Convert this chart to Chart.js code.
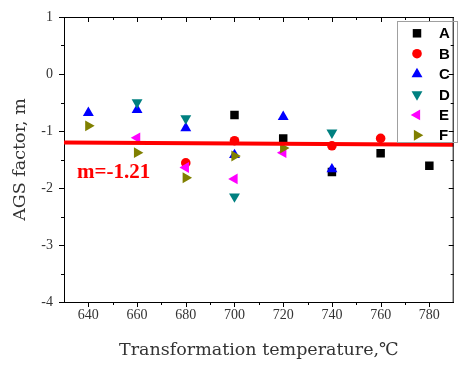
<!DOCTYPE html>
<html>
<head>
<meta charset="utf-8">
<script src="https://cdn.jsdelivr.net/npm/chart.js@4.4.1/dist/chart.umd.min.js"></script>
<style>
  html, body { margin: 0; padding: 0; background: #fff; }
  #graphique { display: block; }
</style>
</head>
<body>
<canvas id="graphique" width="460" height="365"></canvas>
<script>
/** Données : température (°C) et facteur AGS m */
const tempA = [700, 720, 740, 760, 780];
const mA = [-0.72, -1.13, -1.72, -1.39, -1.61];

const tempB = [680, 700, 740, 760];
const mB = [-1.56, -1.17, -1.26, -1.13];

const tempC = [640, 660, 680, 700, 720, 740];
const mC = [-0.68, -0.63, -0.95, -1.42, -0.75, -1.67];

const tempD = [660, 680, 700, 740];
const mD = [-0.50, -0.78, -2.15, -1.03];

const tempE = [660, 680, 700, 720];
const mE = [-1.12, -1.64, -1.84, -1.38];

const tempF = [640, 660, 680, 700, 720];
const mF = [-0.91, -1.38, -1.82, -1.44, -1.30];

/** Droite de régression */
const tempFit = [630, 790];
const mFit = [-1.20, -1.24];
const texteFit = 'm=-1.21';

/** Libellés des axes */
const ticksX = [640, 660, 680, 700, 720, 740, 760, 780];
const ticksY = [-4, -3, -2, -1, 0, 1];

const series = ['A', 'B', 'C', 'D', 'E', 'F'];
const couleurs = ['#000000', '#ff0000', '#0000ff', '#008080', '#ff00ff', '#808000'];
const formes = ['rect', 'circle', 'triangle', 'triangle', 'triangle', 'triangle'];
const rotations = [0, 0, 0, 180, 270, 90];
const tailles = [6, 4.8, 6.3, 6.3, 6.3, 6.3];

const points = function(t, m) {
  return t.map((v, i) => ({ x: v, y: m[i] }));
};

const valeurs = [[tempA, mA], [tempB, mB], [tempC, mC], [tempD, mD], [tempE, mE], [tempF, mF]];

const datasets = valeurs.map((s, i) => ({
  label: series[i],
  data: points(s[0], s[1]),
  pointStyle: formes[i],
  rotation: rotations[i],
  pointRadius: tailles[i],
  pointBackgroundColor: couleurs[i],
  pointBorderWidth: 0,
  order: 10 - i
}));

datasets.push({
  label: 'fit',
  data: points(tempFit, mFit),
  showLine: true,
  pointRadius: 0,
  borderColor: '#ff0000',
  borderWidth: 4,
  order: 0
});

/** Graduations sur les quatre côtés, majeures et mineures */
const graduations = {
  id: 'graduations',
  afterDraw(chart) {
    const { ctx, chartArea: a, scales: { x, y } } = chart;
    ctx.save();
    ctx.strokeStyle = '#000';
    ctx.lineWidth = 1;
    ctx.beginPath();
    ctx.moveTo(a.left, a.top + 0.5);
    ctx.lineTo(a.right, a.top + 0.5);
    ctx.moveTo(a.right - 0.5, a.top);
    ctx.lineTo(a.right - 0.5, a.bottom);
    for (let v = 640; v <= 780; v += 10) {
      const px = Math.round(x.getPixelForValue(v)) + 0.5;
      const l = v % 20 === 0 ? 5 : 3;
      ctx.moveTo(px, a.bottom);
      ctx.lineTo(px, a.bottom + l);
      ctx.moveTo(px, a.top);
      ctx.lineTo(px, a.top + l);
    }
    for (let v = -4; v <= 1; v += 0.5) {
      const py = Math.round(y.getPixelForValue(v)) + 0.5;
      const l = Number.isInteger(v) ? 5 : 3;
      ctx.moveTo(a.left, py);
      ctx.lineTo(a.left - l, py);
      ctx.moveTo(a.right, py);
      ctx.lineTo(a.right - l, py);
    }
    ctx.stroke();
    ctx.restore();
  }
};

/** Légende encadrée et texte de la pente */
const legende = {
  id: 'legende',
  afterDraw(chart) {
    const ctx = chart.ctx;
    const a = chart.chartArea;
    ctx.save();
    ctx.strokeStyle = '#a0a0a0';
    ctx.lineWidth = 1;
    ctx.strokeRect(397.5, 21.5, 60, 121);
    series.forEach((nom, i) => {
      const yy = 33.3 + i * 20.4;
      ctx.fillStyle = couleurs[i];
      Chart.helpers.drawPoint(ctx, {
        pointStyle: formes[i], rotation: rotations[i],
        radius: tailles[i], borderWidth: 0
      }, 417, yy);
      ctx.fillStyle = '#000';
      ctx.font = 'bold 15px "Liberation Sans", Arial, sans-serif';
      ctx.textAlign = 'left';
      ctx.textBaseline = 'middle';
      ctx.fillText(nom, 439, yy + 1);
    });
    ctx.fillStyle = '#ff0000';
    ctx.font = 'bold 21px "Liberation Serif", "Times New Roman", serif';
    ctx.textAlign = 'left';
    ctx.textBaseline = 'middle';
    ctx.fillText(texteFit, a.left + 13, 173);
    ctx.restore();
  }
};

const ctx = document.getElementById('graphique').getContext('2d');
const graphique = new Chart(ctx, {
  type: 'scatter',
  data: { datasets },
  options: {
    responsive: false,
    animation: false,
    layout: { padding: { top: 17, right: 2, left: 0, bottom: 0 } },
    plugins: { legend: { display: false }, tooltip: { enabled: false } },
    scales: {
      x: {
        type: 'linear', min: 630, max: 790,
        afterFit: (s) => { s.height = 63; },
        afterBuildTicks: (s) => { s.ticks = ticksX.map(v => ({ value: v })); },
        grid: { display: false },
        border: { display: true, color: '#000', width: 1 },
        ticks: {
          padding: -3, maxRotation: 0, autoSkip: false,
          color: '#333', font: { family: '"Liberation Serif", serif', size: 14 }
        },
        title: {
          display: true, text: 'Transformation temperature,℃', color: '#333',
          font: { family: '"DejaVu Serif", serif', size: 17.5, lineHeight: 1.2 },
          padding: { top: 0, bottom: 4 }
        }
      },
      y: {
        type: 'linear', min: -4, max: 1,
        afterFit: (s) => { s.width = 64; },
        afterBuildTicks: (s) => { s.ticks = ticksY.map(v => ({ value: v })); },
        grid: { display: false },
        border: { display: true, color: '#000', width: 1 },
        ticks: {
          padding: 3,
          color: '#333', font: { family: '"Liberation Serif", serif', size: 14 }
        },
        title: {
          display: true, text: 'AGS factor, m', color: '#333',
          font: { family: '"DejaVu Serif", serif', size: 17.5, lineHeight: 1.2 },
          padding: { top: 10, bottom: 0 }
        }
      }
    }
  },
  plugins: [graduations, legende]
});
</script>
</body>
</html>
